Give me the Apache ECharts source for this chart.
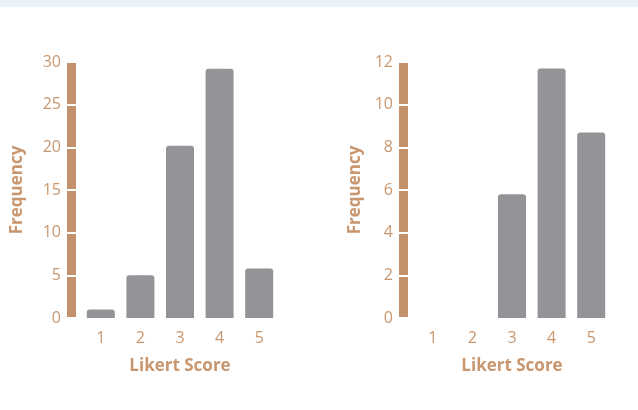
<!DOCTYPE html>
<html><head><meta charset="utf-8">
<script src="https://cdn.jsdelivr.net/npm/echarts@6/dist/echarts.min.js"></script>
<style>html,body{margin:0;padding:0;background:#fff}#c{width:638px;height:410px}</style>
</head><body><div id="c"></div>
<script>
const categories = ['1','2','3','4','5'];
const leftValues = [1, 5, 20.2, 29.2, 5.8];
const rightValues = [0, 0, 5.8, 11.7, 8.7];

const brown = '#c4916d';
const labelColor = '#c9976f';
const barColor = '#939497';
const font = 'Open Sans';

const grids = [
  {left: 81, width: 198, top: 62, bottom: 92},
  {left: 413, width: 198, top: 62, bottom: 92}
];
function xAxis(i){
  return {type:'category', gridIndex:i, data:categories,
    axisLine:{show:false}, axisTick:{show:false},
    axisLabel:{color:labelColor, fontSize:16, fontFamily:font, margin:12},
    name:'Likert Score', nameLocation:'middle', nameGap:40,
    nameTextStyle:{color:labelColor, fontSize:17, fontWeight:'bold', fontFamily:font}};
}
function yAxes(i, max, interval, gap){
  return [{type:'value', gridIndex:i, position:'left', min:0, max:max, interval:interval, offset:10,
    axisLine:{show:true, lineStyle:{color:brown, width:9, cap:'butt'}},
    axisTick:{show:false},
    axisLabel:{color:labelColor, fontSize:16, fontFamily:font, margin:10},
    splitLine:{show:false},
    name:'Frequency', nameLocation:'middle', nameGap:gap,
    nameTextStyle:{color:labelColor, fontSize:17, fontWeight:'bold', fontFamily:font}},
   {type:'value', gridIndex:i, position:'left', min:0, max:max, interval:interval, offset:15, z:10,
    axisLine:{show:false},
    axisTick:{show:true, inside:true, length:11, lineStyle:{color:'#fff', width:2}},
    axisLabel:{show:false}, splitLine:{show:false}}];
}
const chart = echarts.init(document.getElementById('c'));
chart.setOption({
  animation:false,
  graphic:[{type:'rect', shape:{x:0,y:0,width:638,height:7}, style:{fill:'#e8f3f9'}}],
  grid:grids,
  xAxis:[xAxis(0), xAxis(1)],
  yAxis:[...yAxes(0,30,5,45), ...yAxes(1,12,2,39)],
  series:[
    {type:'bar', xAxisIndex:0, yAxisIndex:0, data:leftValues, barWidth:28,
     itemStyle:{color:barColor, borderRadius:[3,3,0,0]}},
    {type:'bar', xAxisIndex:1, yAxisIndex:2, data:rightValues, barWidth:28,
     itemStyle:{color:barColor, borderRadius:[3,3,0,0]}}
  ]
});
</script></body></html>
